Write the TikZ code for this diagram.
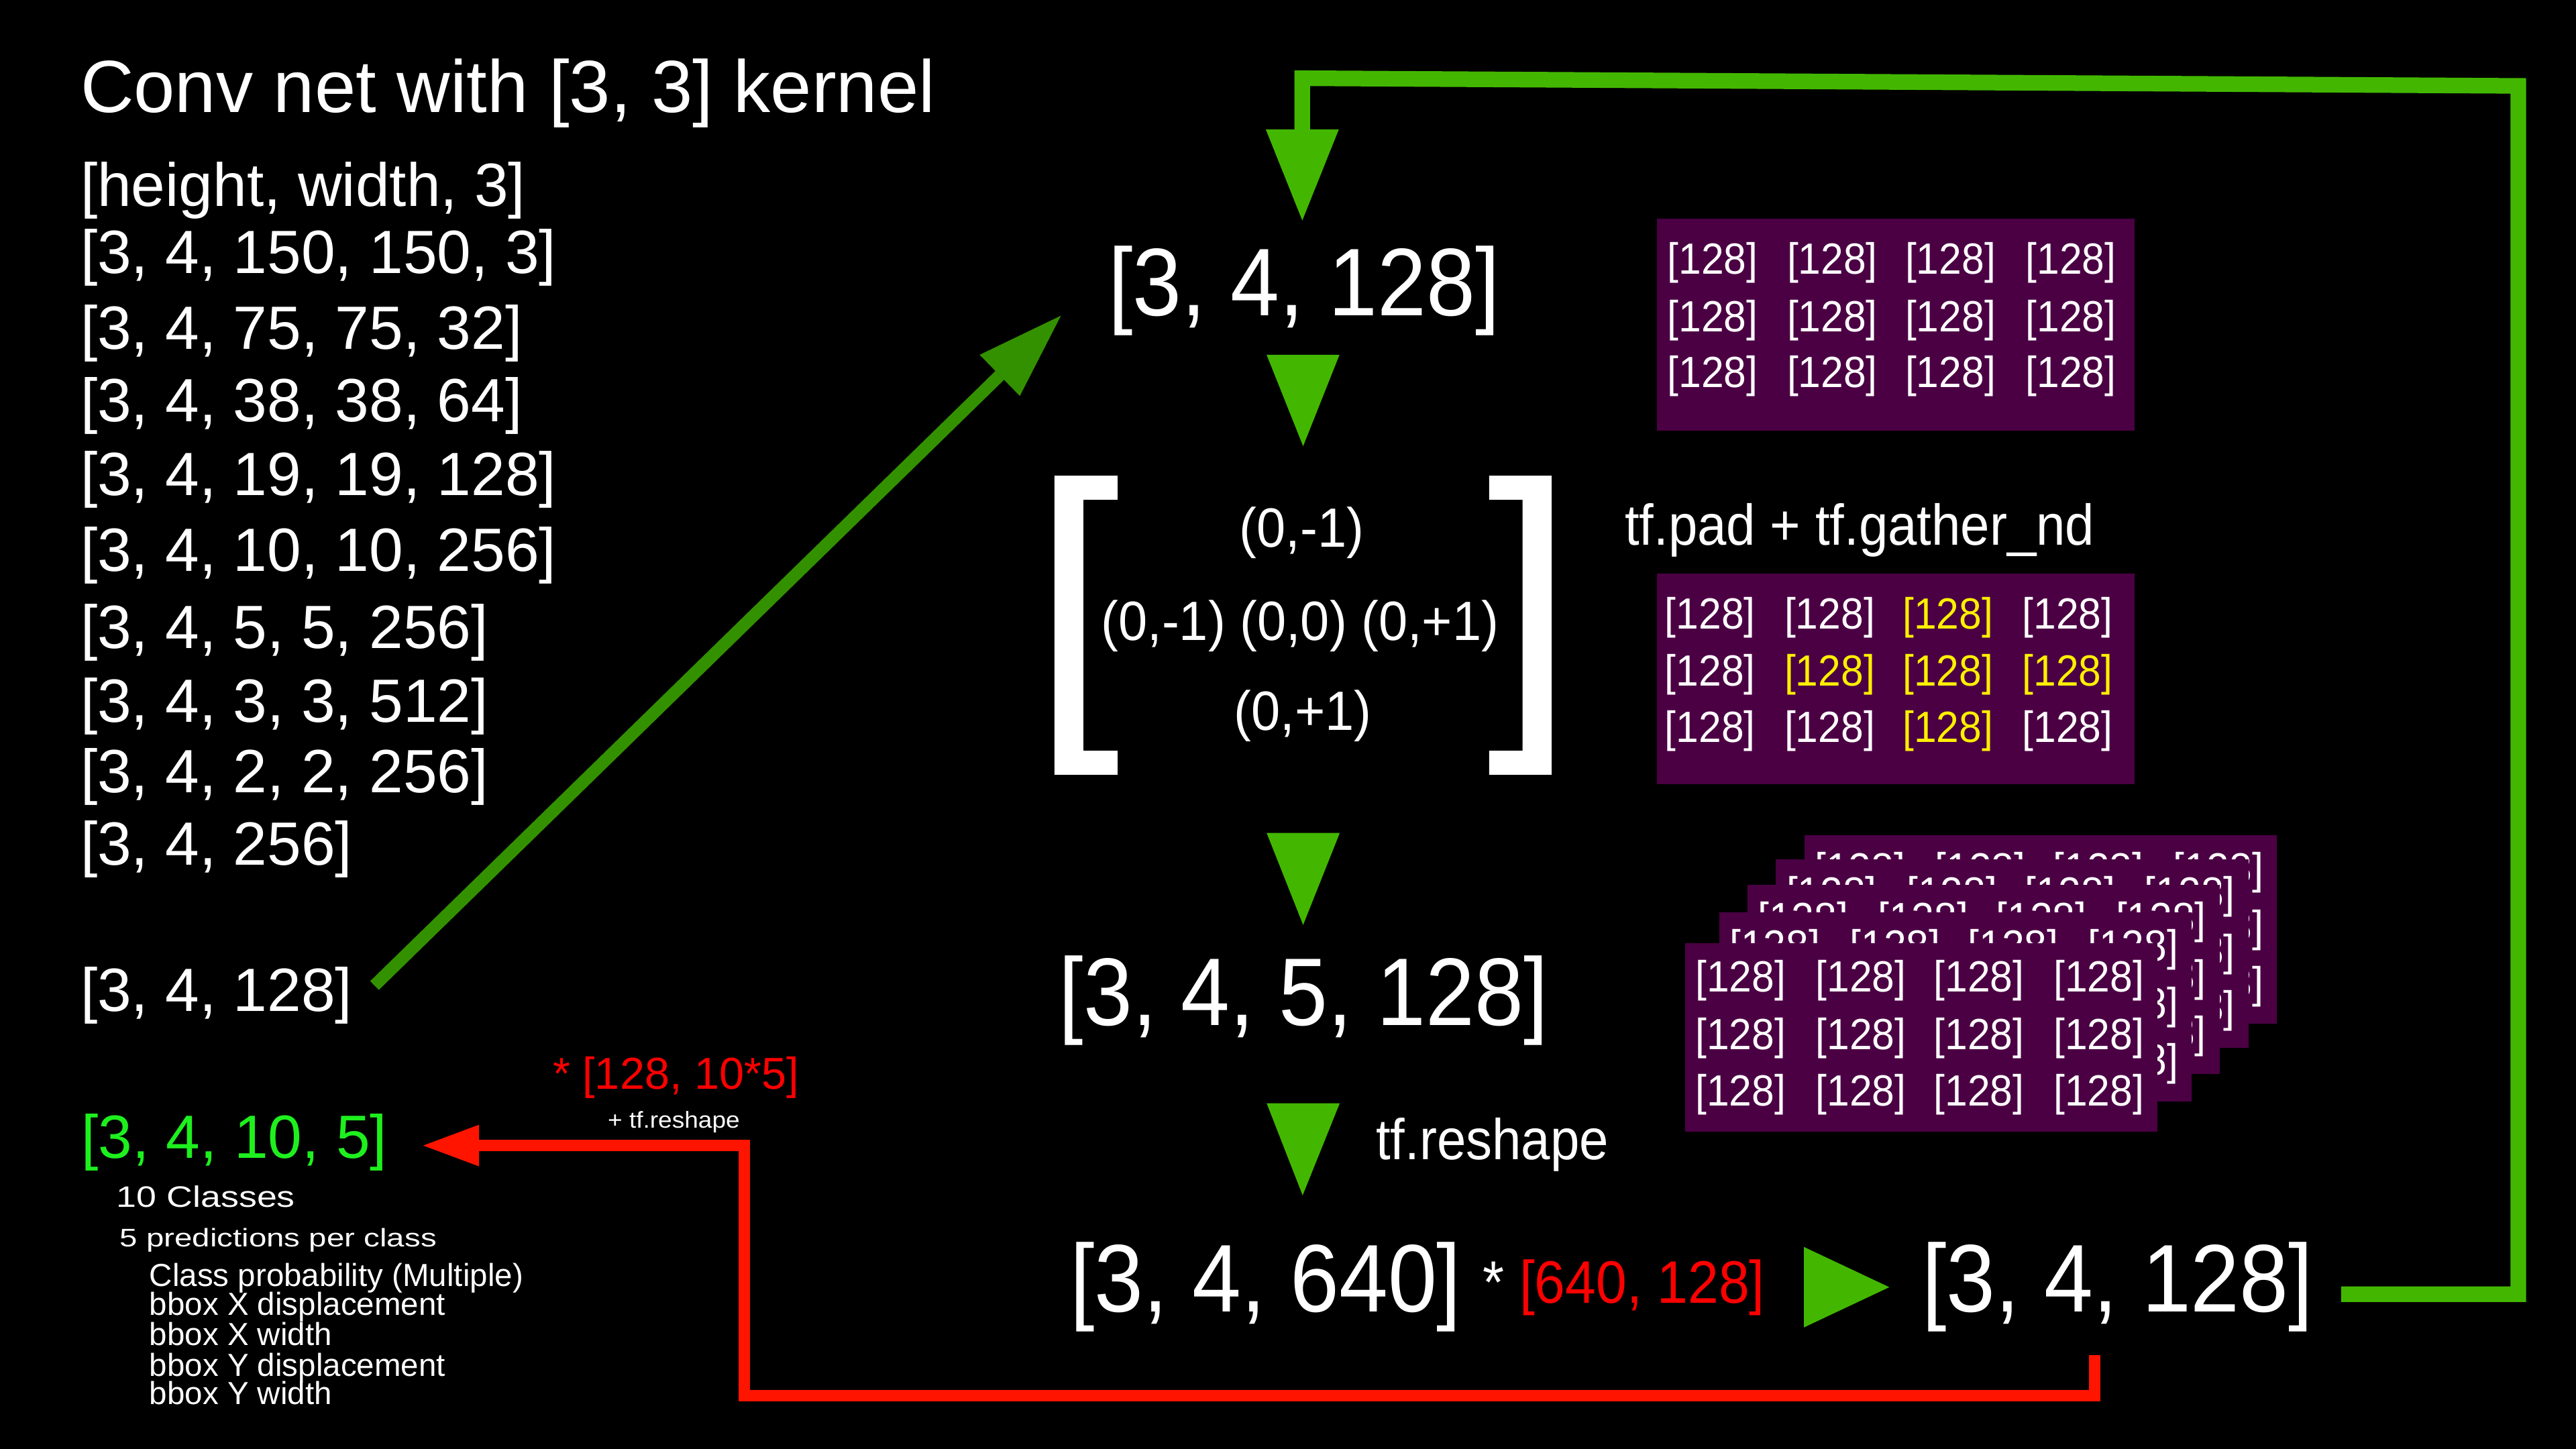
\documentclass[tikz,border=0pt]{standalone}
\usepackage{fontspec}
\usepackage{graphicx}
\setmainfont{Liberation Sans}
\usetikzlibrary{arrows.meta,calc}
\definecolor{lgreen}{RGB}{67,183,0}
\definecolor{dgreen}{RGB}{51,145,0}
\definecolor{brgreen}{RGB}{30,240,30}
\definecolor{purp}{RGB}{75,0,68}
\definecolor{rline}{RGB}{255,20,0}
\definecolor{ylw}{RGB}{255,240,0}
\newcommand\fsz[1]{\fontsize{#1}{#1}\selectfont}
\newcommand\xsc[2]{\scalebox{#1}[1]{#2}}
\tikzset{
  txt/.style={text=white, inner sep=0pt, outer sep=0pt},
  lst/.style={txt, anchor=base west, font=\fsz{37.2pt}},
  small/.style={txt, anchor=base west, font=\fsz{19.4pt}},
  big/.style={txt, anchor=base, font=\fsz{58.5pt}},
  tup/.style={txt, anchor=base, font=\fsz{33.7pt}},
  lbl/.style={txt, anchor=base west, font=\fsz{35pt}},
  cell/.style={txt, anchor=base west, font=\fsz{26.6pt}},
  pbox/.style={fill=purp, draw=none, inner sep=0pt, outer sep=0pt, anchor=north west},
  tri/.style={fill=lgreen},
  loopline/.style={draw=lgreen, line width=9.5pt, line join=miter,
    -{Triangle[width=44.5pt,length=55.5pt,line width=0pt]}},
  redline/.style={draw=rline, line width=7pt, line join=miter,
    -{Triangle[width=25.4pt,length=34pt,line width=0pt]}},
  diagline/.style={draw=dgreen, line width=7.5pt,
    -{Triangle[width=35pt,length=52pt,line width=0pt]}},
}
\begin{document}
\begin{tikzpicture}[x=1pt,y=-1pt]
\useasboundingbox (0,0) rectangle (1568,882);
\fill[black] (0,0) rectangle (1568,882);

% left column
\node[lst, font=\fsz{45pt}] (title) at (49,68.5) {Conv net with [3, 3] kernel};
\node[lst] (l0) at (49,125.5) {[height, width, 3]};
\node[lst] (l1) at (49,166.5) {[3, 4, 150, 150, 3]};
\node[lst] (l2) at (49,212.5) {[3, 4, 75, 75, 32]};
\node[lst] (l3) at (49,256.5) {[3, 4, 38, 38, 64]};
\node[lst] (l4) at (49,301.5) {[3, 4, 19, 19, 128]};
\node[lst] (l5) at (49,347.5) {[3, 4, 10, 10, 256]};
\node[lst] (l6) at (49,394.5) {[3, 4, 5, 5, 256]};
\node[lst] (l7) at (49,439.5) {[3, 4, 3, 3, 512]};
\node[lst] (l8) at (49,482.5) {[3, 4, 2, 2, 256]};
\node[lst] (l9) at (49,526.5) {[3, 4, 256]};
\node[lst] (l128) at (49,615.5) {[3, 4, 128]};
\node[lst, text=brgreen] (g) at (49.5,705) {[3, 4, 10, 5]};
\node[txt, anchor=base west, font=\fsz{18pt}] (c10) at (71,734.7) {\xsc{1.22}{10 Classes}};
\node[txt, anchor=base west, font=\fsz{15.5pt}] (c5) at (73,758.8) {\xsc{1.25}{5 predictions per class}};
\node[small] (d1) at (91,782.9) {Class probability (Multiple)};
\node[small] (d2) at (91,800.7) {bbox X displacement};
\node[small] (d3) at (91,819) {bbox X width};
\node[small] (d4) at (91,837.5) {bbox Y displacement};
\node[small] (d5) at (91,855) {bbox Y width};
\node[txt, anchor=base west, font=\fsz{27.2pt}, text=red] (rl) at (336.5,663) {* [128, 10*5]};
\node[txt, anchor=base west, font=\fsz{14pt}] (rr) at (370,686.6) {\xsc{1.08}{+ tf.reshape}};

% center column
\node[big] (t128) at (793.8,192) {\xsc{0.915}{[3, 4, 128]}};
\fill[tri] (771,216) -- (815.3,216) -- (793.2,271.6) -- cycle;
\fill[white] (680.2,289.6) -- (641.8,289.6) -- (641.8,471.6) -- (680.2,471.6) -- (680.2,457) -- (659.4,457) -- (659.4,304.2) -- (680.2,304.2) -- cycle;
\fill[white] (906.4,289.6) -- (944.4,289.6) -- (944.4,471.6) -- (906.4,471.6) -- (906.4,457) -- (926.8,457) -- (926.8,304.2) -- (906.4,304.2) -- cycle;
\node[tup] (k1) at (792.3,333.2) {\xsc{0.94}{(0,-1)}};
\node[tup] (k2) at (791.3,389.7) {\xsc{0.94}{(0,-1) (0,0) (0,+1)}};
\node[tup] (k3) at (793,444.4) {\xsc{0.94}{(0,+1)}};
\fill[tri] (771,507) -- (815.5,507) -- (793.2,563) -- cycle;
\node[big] (t5) at (793.5,624) {\xsc{0.915}{[3, 4, 5, 128]}};
\fill[tri] (771,671.5) -- (815.5,671.5) -- (792.9,727.6) -- cycle;
\node[lbl] (reshape) at (837.5,705.8) {\xsc{0.91}{tf.reshape}};
\node[big] (t640) at (770.5,798.6) {\xsc{0.915}{[3, 4, 640]}};
\node[txt, anchor=base west, font=\fsz{36.5pt}] (mul) at (902.5,793.3) {\xsc{0.92}{* \textcolor{red}{[640, 128]}}};
\fill[tri] (1098,759) -- (1098,808) -- (1150,783.5) -- cycle;
\node[big] (r128) at (1289,798.6) {\xsc{0.915}{[3, 4, 128]}};

% purple boxes
\node[pbox, minimum width=290.9pt, minimum height=129pt] (box1) at (1008.6,133) {};
\foreach \r/\yy in {1/33.8,2/69.1,3/102.9}{
  \foreach \c/\xx in {1/6.4,2/79.2,3/151.1,4/224.4}{
    \node[cell] (ba-\r-\c) at ($(box1.north west)+(\xx,\yy)$) {\xsc{0.93}{[128]}};
  }
}
\node[lbl] (pad) at (989,331.7) {\xsc{0.91}{tf.pad + tf.gather\_nd}};
\node[pbox, minimum width=290.9pt, minimum height=128.4pt] (box2) at (1008.6,349) {};
\foreach \r/\yy/\ca/\cb/\cc/\cd in {1/33.9/white/white/ylw/white,2/68.4/white/ylw/ylw/ylw,3/102.7/white/white/ylw/white}{
  \node[cell, text=\ca] (bb-\r-1) at ($(box2.north west)+(4.8,\yy)$) {\xsc{0.93}{[128]}};
  \node[cell, text=\cb] (bb-\r-2) at ($(box2.north west)+(77.6,\yy)$) {\xsc{0.93}{[128]}};
  \node[cell, text=\cc] (bb-\r-3) at ($(box2.north west)+(149.5,\yy)$) {\xsc{0.93}{[128]}};
  \node[cell, text=\cd] (bb-\r-4) at ($(box2.north west)+(222.4,\yy)$) {\xsc{0.93}{[128]}};
}
\foreach \k/\bx/\by in {5/1098.3/508.3,4/1081/523,3/1063.5/538.6,2/1046.4/555.3,1/1025.6/574}{
  \node[pbox, minimum width=287.7pt, minimum height=115pt] (s\k) at (\bx,\by) {};
  \foreach \r/\yy in {1/29.7,2/64.9,3/99.2}{
    \foreach \c/\xx in {1/6.4,2/79.6,3/151.5,4/224.4}{
      \node[cell] (s\k-\r-\c) at ($(s\k.north west)+(\xx,\yy)$) {\xsc{0.93}{[128]}};
    }
  }
}

% connectors
\coordinate (gc1) at (1532.9,52.3);
\coordinate (gc2) at (792.7,47.6);
\coordinate (gtip) at ([yshift=15.4pt]t128.north);
\draw[loopline] ([xshift=17pt,yshift=-4.3pt]r128.east) -| (gc1) -- (gc2) -- (gc2 |- gtip);
\coordinate (rc) at (453,849.5);
\draw[redline] ([xshift=-14pt,yshift=-14pt]r128.south) |- (rc) |- ([xshift=22pt,yshift=-1.9pt]g.east);
\draw[diagline] ([xshift=13.5pt,yshift=6pt]l128.east) -- ([xshift=-29pt,yshift=-15.3pt]t128.west);
\end{tikzpicture}
\end{document}
